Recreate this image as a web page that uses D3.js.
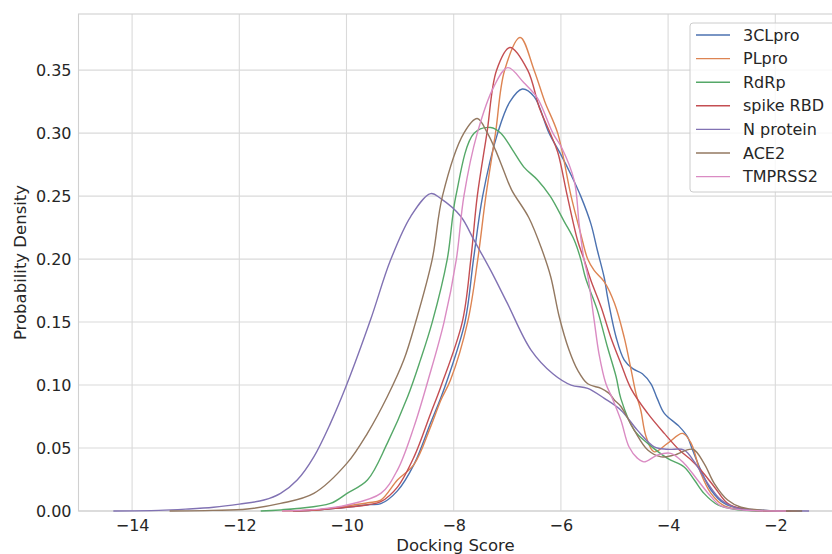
<!DOCTYPE html>
<html>
<head>
<meta charset="utf-8">
<script src="https://cdn.jsdelivr.net/npm/d3@7"></script>
<style>
  body { margin: 0; background: #fff; }
  text { font-family: "DejaVu Sans", sans-serif; fill: #262626; }
</style>
</head>
<body>
<svg id="kde"></svg>
<script>
// series names and colours (seaborn "deep")
const names = ["3CLpro", "PLpro", "RdRp", "spike RBD", "N protein", "ACE2", "TMPRSS2"];
const colors = ["#4c72b0", "#dd8452", "#55a868", "#c44e52", "#8172b3", "#937860", "#da8bc3"];

// tick values
const xTicks = [-14, -12, -10, -8, -6, -4, -2];
const yTicks = [0, 0.05, 0.10, 0.15, 0.20, 0.25, 0.30, 0.35];

// density curves, [score, density]
const pts3CLpro = [[-11.0,0],[-10.5,0.001],[-10.0,0.003],[-9.6,0.005],[-9.36,0.0058],[-9.05,0.016],[-8.74,0.037],
  [-8.43,0.07],[-8.24,0.09],[-8.12,0.104],[-7.79,0.15],[-7.63,0.2],[-7.46,0.25],[-7.18,0.3],[-6.95,0.325],
  [-6.72,0.335],[-6.5,0.329],[-6.22,0.3],[-6.0,0.283],[-5.8,0.266],[-5.63,0.25],[-5.44,0.228],[-5.32,0.207],
  [-5.19,0.185],[-5.13,0.17],[-4.97,0.138],[-4.82,0.12],[-4.66,0.113],[-4.48,0.109],[-4.32,0.101],[-4.2,0.089],
  [-4.07,0.0775],[-3.79,0.067],[-3.64,0.059],[-3.54,0.048],[-3.39,0.0325],[-3.2,0.0167],[-2.95,0.006],
  [-2.64,0.002],[-2.2,0.0005],[-1.5,0]];
const ptsPLpro = [[-11.2,0],[-10.5,0.001],[-10.0,0.004],[-9.6,0.0065],[-9.36,0.0087],[-9.05,0.0246],[-8.74,0.037],
  [-8.43,0.067],[-8.24,0.088],[-8.06,0.104],[-7.74,0.15],[-7.55,0.2],[-7.4,0.25],[-7.22,0.3],[-7.05,0.35],
  [-6.76,0.376],[-6.5,0.35],[-6.3,0.325],[-6.06,0.3],[-5.81,0.25],[-5.63,0.22],[-5.5,0.2],[-5.38,0.191],
  [-5.19,0.182],[-5.0,0.165],[-4.82,0.138],[-4.69,0.112],[-4.6,0.0934],[-4.51,0.08],[-4.41,0.059],
  [-4.26,0.047],[-4.01,0.0537],[-3.73,0.0616],[-3.57,0.0537],[-3.39,0.03],[-3.2,0.014],[-2.95,0.004],
  [-2.6,0.001],[-1.6,0]];
const ptsRdRp = [[-11.6,0],[-10.92,0.002],[-10.3,0.006],[-9.99,0.014],[-9.61,0.0246],[-9.24,0.0537],[-8.86,0.0907],
  [-8.62,0.12],[-8.4,0.15],[-8.12,0.2],[-7.96,0.25],[-7.62,0.3],[-7.31,0.3045],[-7.12,0.3],[-6.9,0.2865],
  [-6.69,0.273],[-6.44,0.263],[-6.2,0.25],[-5.94,0.23],[-5.75,0.215],[-5.63,0.2],[-5.54,0.185],[-5.32,0.1595],
  [-5.13,0.13],[-4.97,0.1066],[-4.88,0.089],[-4.63,0.064],[-4.38,0.0537],[-4.01,0.0418],[-3.7,0.035],
  [-3.51,0.0246],[-3.33,0.014],[-3.07,0.0048],[-2.7,0.001],[-1.8,0]];
const ptsSpike = [[-11.0,0],[-10.5,0.001],[-10.0,0.003],[-9.6,0.005],[-9.36,0.0074],[-9.05,0.019],[-8.74,0.043],
  [-8.43,0.0775],[-8.24,0.0987],[-7.84,0.15],[-7.68,0.2],[-7.56,0.25],[-7.38,0.3],[-7.2,0.35],[-6.95,0.368],
  [-6.62,0.35],[-6.4,0.32],[-6.2,0.3],[-6.06,0.285],[-5.88,0.25],[-5.69,0.215],[-5.57,0.2],[-5.44,0.183],
  [-5.25,0.162],[-5.07,0.138],[-4.88,0.117],[-4.69,0.097],[-4.38,0.0775],[-4.07,0.0616],[-3.79,0.0484],
  [-3.57,0.0405],[-3.39,0.0325],[-3.14,0.0193],[-2.89,0.006],[-2.6,0.0015],[-1.7,0]];
const ptsNprot = [[-14.35,0],[-13.5,0.0005],[-13.0,0.0015],[-12.48,0.003],[-12.0,0.0055],[-11.54,0.0087],
  [-11.23,0.014],[-10.92,0.0246],[-10.61,0.043],[-10.3,0.0696],[-9.99,0.101],[-9.55,0.152],[-9.18,0.199],
  [-8.8,0.234],[-8.43,0.252],[-8.24,0.248],[-7.87,0.234],[-7.62,0.215],[-7.31,0.191],[-7.0,0.165],
  [-6.56,0.128],[-6.15,0.109],[-5.81,0.1],[-5.5,0.0974],[-5.19,0.0894],[-4.88,0.08],[-4.57,0.064],
  [-4.26,0.051],[-4.01,0.049],[-3.7,0.0484],[-3.51,0.039],[-3.26,0.022],[-3.01,0.0087],[-2.7,0.002],
  [-2.2,0.0005],[-1.37,0]];
const ptsACE2 = [[-13.3,0],[-12.5,0.0005],[-11.85,0.0016],[-11.23,0.006],[-10.61,0.014],[-9.99,0.038],
  [-9.61,0.0617],[-9.24,0.0907],[-8.93,0.12],[-8.71,0.15],[-8.4,0.2],[-8.21,0.25],[-7.81,0.3],[-7.56,0.3116],
  [-7.37,0.3],[-7.22,0.2865],[-7.07,0.2706],[-6.92,0.255],[-6.6,0.233],[-6.35,0.207],[-6.19,0.186],
  [-6.03,0.154],[-5.85,0.128],[-5.69,0.112],[-5.5,0.101],[-5.25,0.0974],[-5.1,0.0934],[-5.0,0.088],
  [-4.88,0.083],[-4.63,0.064],[-4.38,0.0484],[-4.13,0.043],[-3.89,0.0444],[-3.54,0.049],[-3.33,0.0378],
  [-3.14,0.022],[-2.89,0.0087],[-2.64,0.003],[-2.2,0.0005],[-1.5,0]];
const ptsTMPRSS2 = [[-11.2,0],[-10.5,0.0015],[-9.99,0.0048],[-9.36,0.014],[-9.05,0.0325],[-8.74,0.067],
  [-8.47,0.105],[-8.18,0.15],[-7.95,0.2],[-7.81,0.25],[-7.56,0.3],[-7.25,0.337],[-6.99,0.352],[-6.69,0.34],
  [-6.44,0.328],[-6.15,0.3],[-5.98,0.288],[-5.75,0.262],[-5.66,0.228],[-5.57,0.2],[-5.5,0.187],[-5.38,0.1516],
  [-5.29,0.125],[-5.16,0.101],[-5.04,0.0894],[-4.88,0.072],[-4.73,0.051],[-4.57,0.0418],[-4.45,0.039],
  [-4.2,0.0444],[-3.95,0.0458],[-3.7,0.0378],[-3.45,0.0246],[-3.2,0.0114],[-3.01,0.004],[-2.6,0.0008],[-1.8,0]];

const curves = [pts3CLpro, ptsPLpro, ptsRdRp, ptsSpike, ptsNprot, ptsACE2, ptsTMPRSS2];

// dimensions
const width = 832;
const height = 554;
const margin = {top: 14, left: 78.5, bottom: 43};
const plotRight = 842.3;   // axes run past the right edge of the picture

const svg = d3.select('#kde')
  .attr('width', width)
  .attr('height', height);

// scales
const xScale = d3.scaleLinear()
  .domain([-15, -0.75])
  .range([margin.left, plotRight]);

const yScale = d3.scaleLinear()
  .domain([0, 0.3946])
  .range([height - margin.bottom, margin.top]);

const gridColor = '#dadada';

// grid lines
svg.append('g')
  .selectAll('line.vgrid')
  .data(xTicks)
  .enter().append('line')
  .attr('x1', d => xScale(d)).attr('x2', d => xScale(d))
  .attr('y1', yScale.range()[0]).attr('y2', yScale.range()[1])
  .style('stroke', gridColor).style('stroke-width', 1.1);

svg.append('g')
  .selectAll('line.hgrid')
  .data(yTicks)
  .enter().append('line')
  .attr('x1', margin.left).attr('x2', plotRight)
  .attr('y1', d => yScale(d)).attr('y2', d => yScale(d))
  .style('stroke', gridColor).style('stroke-width', 1.1);

// frame
svg.append('rect')
  .attr('x', margin.left).attr('y', margin.top)
  .attr('width', plotRight - margin.left)
  .attr('height', yScale(0) - margin.top)
  .style('fill', 'none').style('stroke', '#d0d0d0').style('stroke-width', 1.1);

// axes (labels only)
const xAxis = d3.axisBottom(xScale).tickValues(xTicks).tickSize(0).tickPadding(9);
const yAxis = d3.axisLeft(yScale).tickValues(yTicks).tickSize(0).tickPadding(7)
  .tickFormat(d3.format('.2f'));

svg.append('g')
  .attr('transform', `translate(0, ${yScale(0)})`)
  .call(xAxis)
  .call(g => g.select('.domain').remove())
  .selectAll('text')
  .style('font-size', '16px').style('font-family', '"DejaVu Sans", sans-serif').style('fill', '#262626');

svg.append('g')
  .attr('transform', `translate(${margin.left}, 0)`)
  .call(yAxis)
  .call(g => g.select('.domain').remove())
  .selectAll('text')
  .style('font-size', '16px').style('font-family', '"DejaVu Sans", sans-serif').style('fill', '#262626');

// axis titles
svg.append('text')
  .attr('x', (xScale(-15) + xScale(-0.75)) / 2 - 5)
  .attr('y', 551)
  .style('text-anchor', 'middle')
  .style('font-size', '16.5px')
  .text('Docking Score');

svg.append('text')
  .attr('transform', `translate(26, ${(yScale(0) + margin.top) / 2}) rotate(-90)`)
  .style('text-anchor', 'middle')
  .style('font-size', '16.5px')
  .text('Probability Density');

// density lines
const line = d3.line()
  .x(d => xScale(d[0]))
  .y(d => yScale(Math.max(0, d[1])))
  .curve(d3.curveCatmullRom.alpha(0.5));

svg.append('g')
  .selectAll('path')
  .data(curves)
  .enter()
  .append('path')
  .attr('d', line)
  .style('fill', 'none')
  .style('stroke', (d, i) => colors[i])
  .style('stroke-width', 1.4);

// legend
svg.append('rect')
  .attr('x', 690).attr('y', 23)
  .attr('width', 160).attr('height', 169)
  .attr('rx', 3)
  .style('fill', '#fff').style('fill-opacity', 0.8)
  .style('stroke', '#cccccc').style('stroke-width', 1);

const legend = svg.selectAll('.legend')
  .data(names)
  .enter().append('g')
  .attr('class', 'legend')
  .attr('transform', (d, i) => `translate(0, ${35 + i * 23.6})`);
legend.append('line')
  .attr('x1', 696).attr('x2', 730)
  .style('stroke', (d, i) => colors[i])
  .style('stroke-width', 1.4);
legend.append('text')
  .attr('x', 743)
  .attr('dy', '.35em')
  .style('font-size', '16px')
  .text(d => d);
</script>
</body>
</html>
